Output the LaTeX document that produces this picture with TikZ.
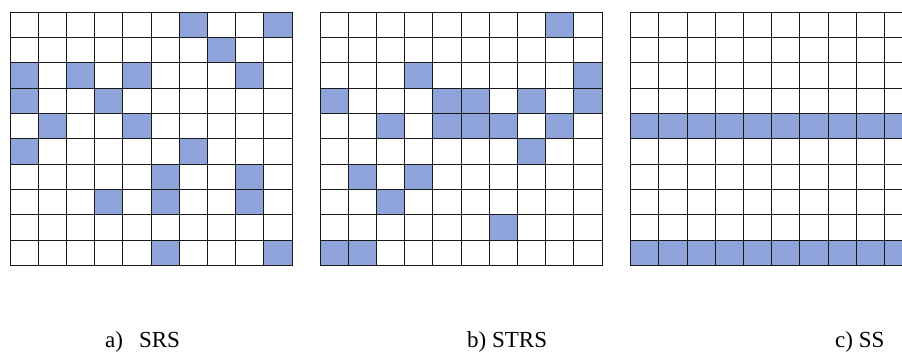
\documentclass[tikz,border=0pt]{standalone}
\usepackage{fontspec}
\setmainfont{Liberation Serif}
\newfontfamily\capfont{Liberation Serif}
\usetikzlibrary{positioning}
\definecolor{cellblue}{RGB}{142,164,218}

\newcommand{\cw}{28.2}
\newcommand{\ch}{25.33}

\begin{document}
\begin{tikzpicture}[
        x=1pt, y=-1pt,
        cell/.style={fill=cellblue},
        gridline/.style={draw=black!90, line width=1pt},
        caption/.style={font=\capfont\fontsize{23}{27}\selectfont, anchor=base west, inner sep=0pt},
    ]
    \useasboundingbox (0,0) rectangle (902,354);
    \clip (0,0) rectangle (902,354);

    % a) SRS
    \foreach \r/\c in {0/6,0/9,1/7,2/0,2/2,2/4,2/8,3/0,3/3,4/1,4/4,
                       5/0,5/6,6/5,6/8,7/3,7/5,7/8,9/5,9/9}
        \fill[cell] ({10+\c*\cw},{12.3+\r*\ch}) rectangle ++(\cw,\ch);

    % b) STRS
    \foreach \r/\c in {0/8,2/3,2/9,3/0,3/4,3/5,3/7,3/9,4/2,4/4,4/5,4/6,4/8,
                       5/7,6/1,6/3,7/2,8/6,9/0,9/1}
        \fill[cell] ({320+\c*\cw},{12.3+\r*\ch}) rectangle ++(\cw,\ch);

    % c) SS
    \foreach \r in {4,9}
        \foreach \c in {0,...,9}
            \fill[cell] ({630.7+\c*\cw},{12.3+\r*\ch}) rectangle ++(\cw,\ch);

    % grids
    \foreach \ox in {10,320,630.7}
        \foreach \i in {0,...,10} {
            \draw[gridline] ({\ox+\i*\cw},12.3) -- ++(0,{10*\ch});
            \draw[gridline] (\ox,{12.3+\i*\ch}) -- ++({10*\cw},0);
        }

    % captions
    \node[caption] (capA) at (105,347) {a)\hspace{16pt}SRS};
    \node[caption] (capB) at (467,347) {b) STRS};
    \node[caption] (capC) at (835,347) {c) SS};
\end{tikzpicture}
\end{document}
